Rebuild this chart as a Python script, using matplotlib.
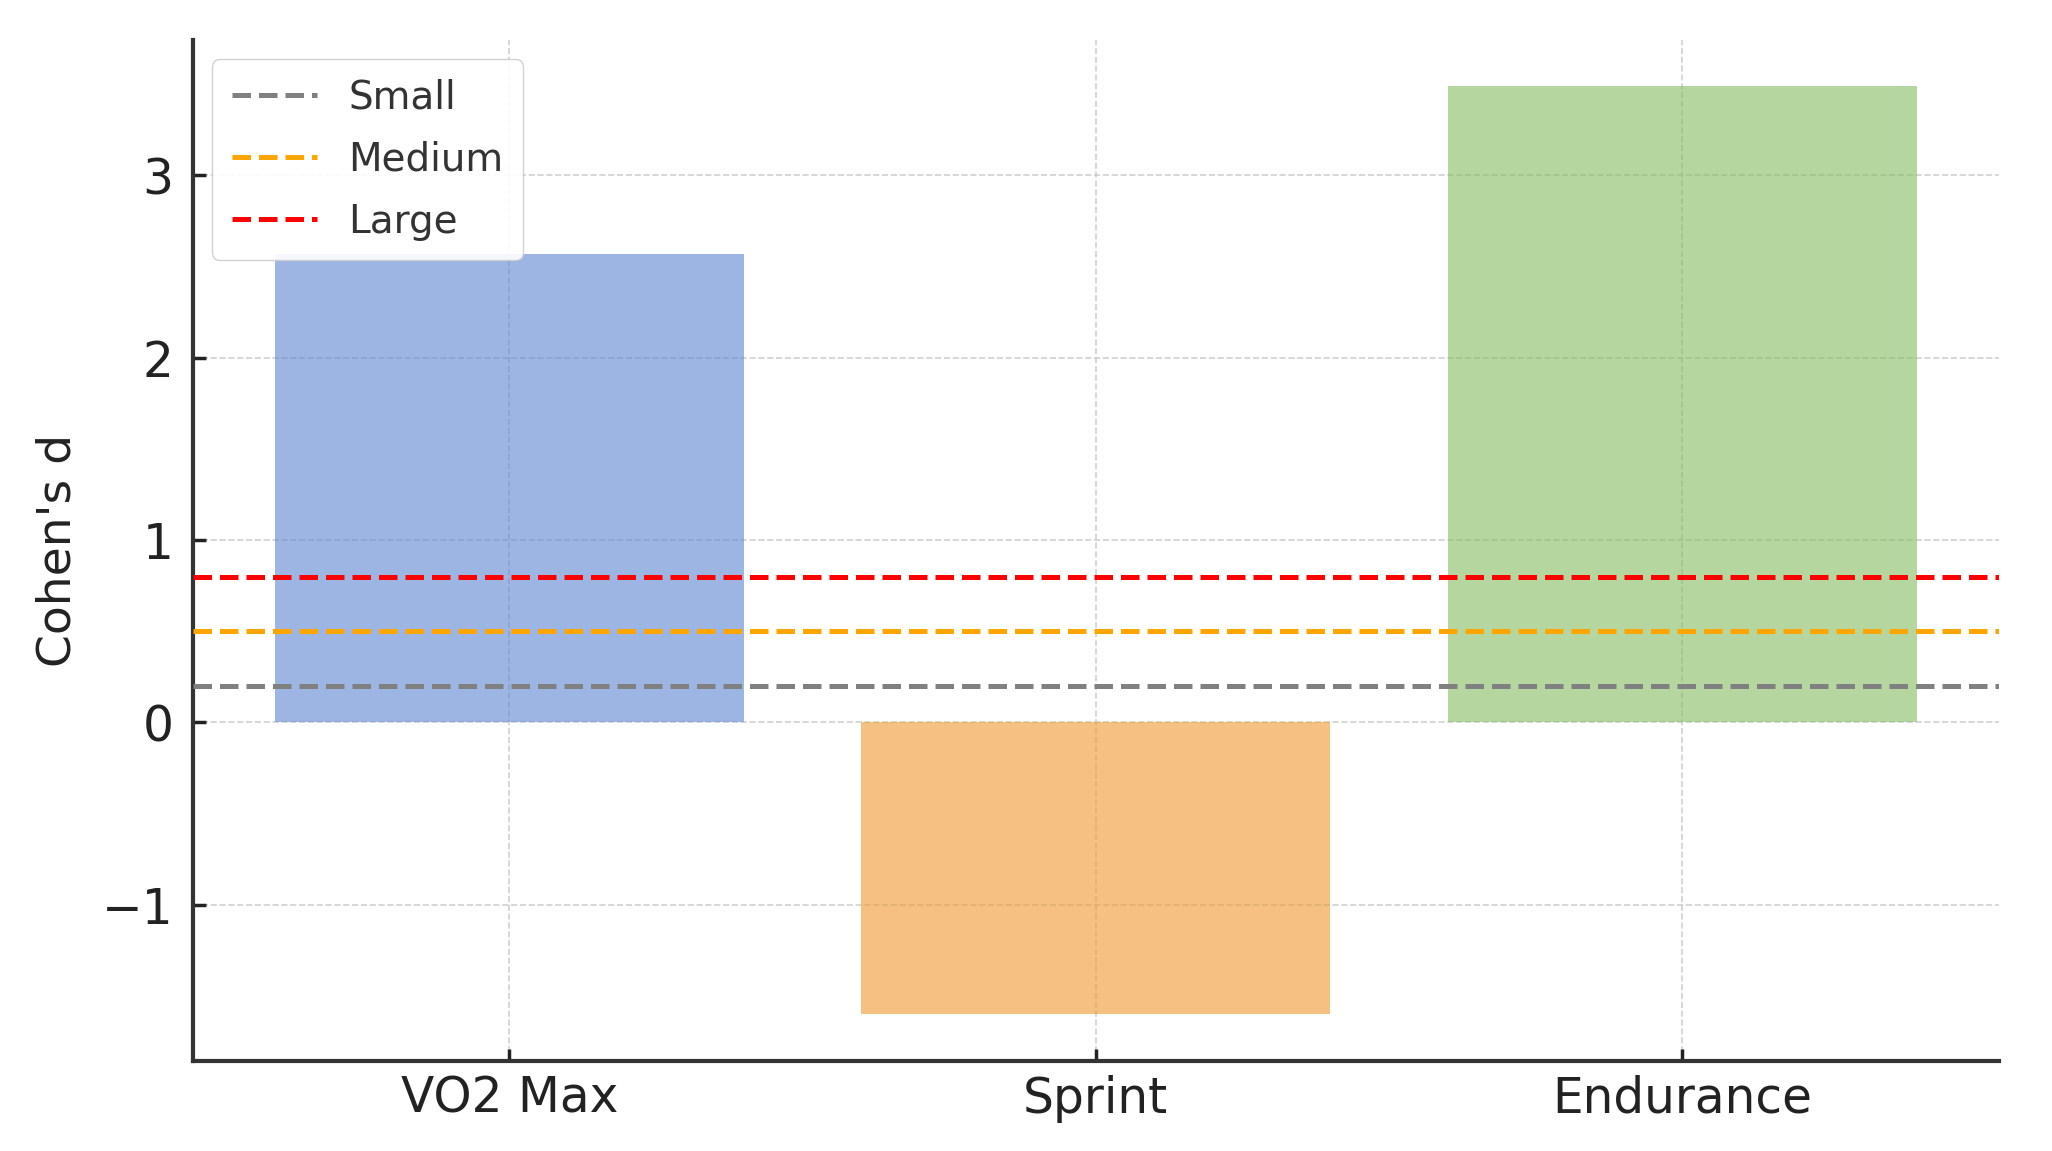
import matplotlib
matplotlib.use('Agg')
import matplotlib.pyplot as plt

# Effect sizes per test
categories = ['VO2 Max', 'Sprint', 'Endurance']
cohens_d = [2.57, -1.60, 3.49]
bar_colors = ['#5c85cf', '#ed9930', '#84bb5f']

# Reference thresholds for Cohen's d
thresholds = [0.2, 0.5, 0.8]
threshold_labels = ['Small', 'Medium', 'Large']
threshold_colors = ['gray', 'orange', 'red']

fig = plt.figure(figsize=(20.52, 11.51), dpi=100)
ax = fig.add_axes([0.094, 0.0785, 0.880, 0.887])

ax.bar(categories, cohens_d, width=0.8, color=bar_colors, alpha=0.6, zorder=2)

for y, lab, col in zip(thresholds, threshold_labels, threshold_colors):
    ax.axhline(y, color=col, linestyle='--', linewidth=3.6, label=lab, zorder=3)

ax.set_ylabel("Cohen's d", fontsize=34, color='#222222', labelpad=15)
ax.tick_params(axis='both', labelsize=35, direction='in', length=9, width=2.5,
               colors='#222222')
ax.tick_params(axis='y', pad=14)
ax.tick_params(axis='x', pad=10)
ax.grid(True, linestyle='--', color='#cccccc', linewidth=1.2, alpha=0.9, zorder=0)
ax.set_axisbelow(True)

for side in ['top', 'right']:
    ax.spines[side].set_visible(False)
for side in ['left', 'bottom']:
    ax.spines[side].set_linewidth(3.0)
    ax.spines[side].set_color('#333333')

leg = ax.legend(loc='upper left', fontsize=28, handlelength=2.2, framealpha=0.9,
                labelspacing=0.62, borderpad=0.5)
for t in leg.get_texts():
    t.set_color('#333333')

fig.savefig('out.png', dpi=100)
